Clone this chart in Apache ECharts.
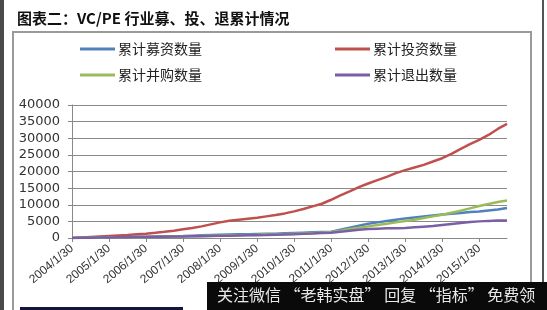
<!DOCTYPE html>
<html><head><meta charset="utf-8">
<script src="https://cdn.jsdelivr.net/npm/echarts@6/dist/echarts.min.js"></script>
<style>html,body{margin:0;padding:0;background:#fff;}#c{width:547px;height:310px;}</style>
</head><body><div id="c"></div>
<script>
const categories = [];
for (let y = 2004; y <= 2015; y++) { for (const m of [1,4,7,10]) categories.push(y + '/' + m + '/30'); }

const fundraising = [0,50,100,150, 200,250,300,350, 400,450,500,550, 600,700,800,900,
  1000,1050,1100,1150, 1200,1250,1300,1400, 1500,1600,1700,1800, 1900,2500,3100,3700,
  4300,4700,5100,5500, 5900,6200,6500,6800, 7100,7300,7500,7800, 8000,8300,8600,9000];
const investment = [0,150,300,450, 600,750,900,1100, 1300,1550,1850,2200, 2600,3000,3500,4100,
  4700,5200,5500,5800, 6100,6500,6900,7400, 8000,8700,9500,10300, 11500,12800,14000,15300,
  16400,17400,18400,19500, 20400,21200,22000,23000, 24000,25300,26800,28200, 29500,31000,32800,34300];
const mergers = [0,30,60,90, 120,160,200,250, 300,350,400,450, 500,560,620,680,
  740,800,860,920, 980,1050,1120,1200, 1300,1420,1540,1660, 1800,2200,2700,3100,
  3500,3900,4300,4700, 5100,5500,6000,6500, 7000,7600,8200,8900, 9600,10200,10800,11300];
const exits = [0,40,80,120, 160,200,240,280, 320,360,400,440, 480,520,560,600,
  650,700,750,800, 850,920,1000,1080, 1160,1260,1360,1480, 1600,1900,2200,2500,
  2700,2800,2900,2950, 3000,3200,3400,3600, 3900,4200,4500,4800, 5000,5150,5250,5300];
const seriesNames = ['累计募资数量','累计投资数量','累计并购数量','累计退出数量'];
const yTicks = {min: 0, max: 40000, interval: 5000};

const colors = ['#4F81BD','#C0504D','#9BBB59','#7B5FA6'];
const font = "'Noto Sans CJK SC','DejaVu Sans',sans-serif";
const chart = echarts.init(document.getElementById('c'), null, {renderer:'canvas'});
const legendPos = [[75,37],[330,37],[75,63],[330,63]];
const dataArr = [fundraising, investment, mergers, exits];
chart.setOption({
  animation: false,
  backgroundColor: '#fff',
  title: { text: '图表二：VC/PE 行业募、投、退累计情况', left: 12, top: 6,
    textStyle: { fontSize: 15, fontWeight: 'bold', color: '#111', fontFamily: font } },
  legend: seriesNames.map((n, i) => ({
    data: [n], left: legendPos[i][0], top: legendPos[i][1], icon: 'rect',
    itemWidth: 35, itemHeight: 3, itemGap: 0,
    textStyle: { fontSize: 14, color: '#222', fontFamily: font, padding: [0,0,0,-2] }
  })),
  grid: { left: 72, right: 40, top: 105, bottom: 72 },
  xAxis: {
    type: 'category', data: categories, boundaryGap: false,
    axisLine: { lineStyle: { color: '#888', width: 1 } },
    axisTick: { interval: 3, length: 4, lineStyle: { color: '#888' } },
    axisLabel: { interval: 3, rotate: 40, fontSize: 12, color: '#333', fontFamily: "'Liberation Sans',sans-serif", margin: 9 },
    splitLine: { show: false }
  },
  yAxis: {
    type: 'value', min: yTicks.min, max: yTicks.max, interval: yTicks.interval,
    axisLine: { show: true, lineStyle: { color: '#888' } },
    axisTick: { show: true, length: 4, lineStyle: { color: '#888' } },
    axisLabel: { fontSize: 13, color: '#333', fontFamily: "'DejaVu Sans',sans-serif", margin: 12,
      formatter: v => String(v) },
    splitLine: { lineStyle: { color: '#8a8a8a', width: 1 } }
  },
  series: seriesNames.map((n, i) => ({
    name: n, type: 'line', data: dataArr[i], showSymbol: false, symbol: 'none',
    color: colors[i], lineStyle: { width: 2.5, color: colors[i] },
    z: [2, 1, 3, 4][i]
  })),
  graphic: [
    { type: 'rect', shape: { x: 0, y: 0, width: 4, height: 310 }, style: { fill: '#4a4a4a' }, silent: true },
    { type: 'rect', shape: { x: 542, y: 0, width: 2, height: 310 }, style: { fill: '#555' }, silent: true },
    { type: 'rect', shape: { x: 13, y: 32, width: 518, height: 290 }, style: { fill: 'none', stroke: '#9a9a9a', lineWidth: 2 }, silent: true },
    { type: 'rect', shape: { x: 20, y: 307, width: 163, height: 3 }, style: { fill: '#14143c' }, silent: true },
    { type: 'rect', shape: { x: 207, y: 282, width: 340, height: 28 }, style: { fill: '#0a0a0a' }, silent: true, z: 100 },
    { type: 'text', left: 217, top: 287, z: 101, silent: true,
      style: { text: '关注微信 “老韩实盘” 回复 “指标” 免费领', fill: '#e8e8e8', fontSize: 16, fontFamily: font } }
  ]
});
</script></body></html>
